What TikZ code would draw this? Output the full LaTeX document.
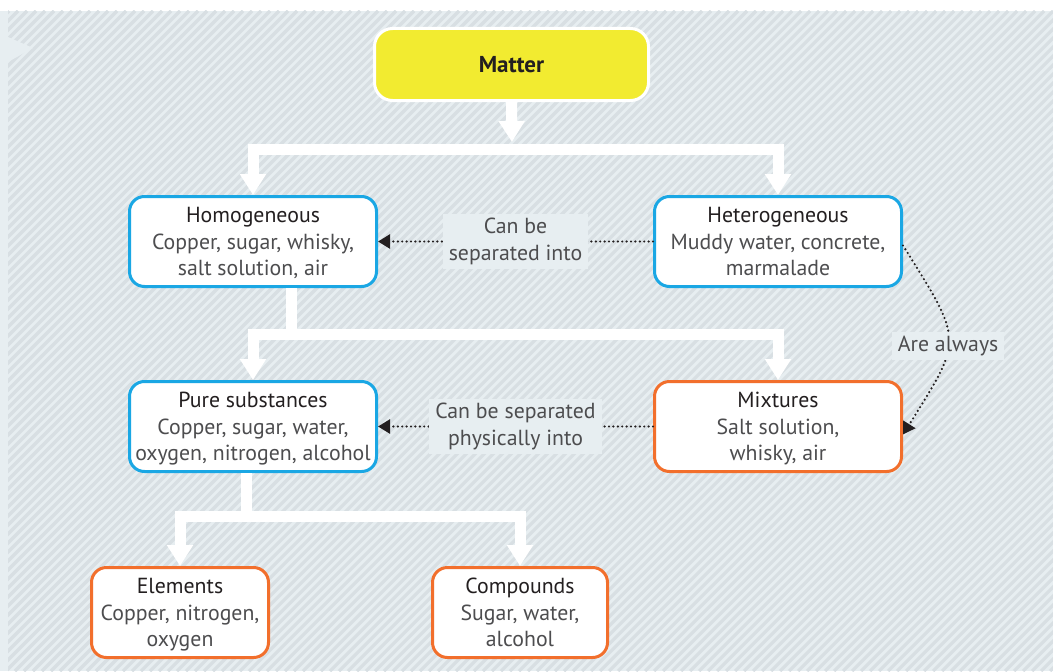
\documentclass[tikz,border=0pt]{standalone}
\usepackage{fontspec}
\setmainfont{PT Sans}
\usetikzlibrary{arrows.meta,calc,positioning}
\definecolor{Stripe}{HTML}{D8DFE3}
\definecolor{Paper}{HTML}{E7EEF1}
\definecolor{Lemon}{HTML}{F2EB30}
\definecolor{Sky}{HTML}{1AA7E4}
\definecolor{Tangerine}{HTML}{F26F2C}
\definecolor{Ink}{HTML}{231F20}
\definecolor{Slate}{HTML}{4D4D4F}

\tikzset{
  catbox/.style={draw=#1,line width=1.5pt,fill=white,rounded corners=7.5pt,
    minimum width=123.5pt,minimum height=45pt,inner sep=0pt,align=center,
    text=Slate,font=\fontsize{10.9}{13.25}\selectfont},
  seplabel/.style={fill=Paper,inner xsep=3pt,inner ysep=2pt,align=center,
    text=Slate,font=\fontsize{10.9}{13.25}\selectfont},
  treelink/.style={white,line width=5.5pt,line join=miter,
    >={Triangle[width=12.5pt,length=10.5pt]}},
  dotlink/.style={Ink,line width=1.2pt,line cap=round,dash pattern=on 0pt off 2.2pt,
    >={Triangle[width=7pt,length=6pt]},->},
}
% first and last line of a box, with struts so all boxes sit alike
\newcommand{\boxhead}[1]{\rule{0pt}{12.5pt}\textcolor{Ink}{#1}}
\newcommand{\boxtail}[1]{#1\rule[-5pt]{0pt}{5pt}}

\begin{document}
\begin{tikzpicture}[x=0.5pt,y=0.5pt]
  % background
  \fill[white] (0,0) rectangle (1053,671);
  \fill[Paper] (0,0) rectangle (1053,660);
  \begin{scope}
    \clip (8,0) rectangle (1053,660);
    \foreach \s in {-660,-651,...,1053}
      \draw[Stripe,line width=1.6pt] (\s,0) -- ++(660,660);
  \end{scope}
  \fill[Paper] (8,634) -- (33,623) -- (8,609) -- cycle;

  % boxes
  \node[fill=Lemon,draw=white,line width=1.5pt,rounded corners=9pt,
    minimum width=137pt,minimum height=36pt,text=Ink,
    font=\fontsize{11.5}{13}\selectfont\bfseries] (matter) at (511.5,606.5) {Matter};
  \node[catbox=Sky] (homo) at (253,429.5)
    {\boxhead{Homogeneous}\\Copper, sugar, whisky,\\\boxtail{salt solution, air}};
  \node[catbox=Sky] (hetero) at (778,429.5)
    {\boxhead{Heterogeneous}\\Muddy water, concrete,\\\boxtail{marmalade}};
  \node[catbox=Sky] (pure) at (253,244.5)
    {\boxhead{Pure substances}\\Copper, sugar, water,\\\boxtail{oxygen, nitrogen, alcohol}};
  \node[catbox=Tangerine] (mix) at (778,244.5)
    {\boxhead{Mixtures}\\Salt solution,\\\boxtail{whisky, air}};
  \node[catbox=Tangerine,minimum width=88.5pt] (elem) at (180,58.5)
    {\boxhead{Elements}\\Copper, nitrogen,\\\boxtail{oxygen}};
  \node[catbox=Tangerine,minimum width=87.5pt] (comp) at (520,58.5)
    {\boxhead{Compounds}\\Sugar, water,\\\boxtail{alcohol}};

  % white tree links
  \coordinate (split1) at (512,522);
  \coordinate (split2) at (291,336.5);
  \coordinate (split3) at (246,154.5);
  \draw[treelink,->,shorten >=3.5pt] (matter.south) -- (split1);
  \draw[treelink,<->] (homo.north) -- (homo.north |- split1)
    -- (hetero.north |- split1) -- (hetero.north);
  \draw[treelink] (homo.south -| split2) -- (split2);
  \draw[treelink,<->] (pure.north) -- (pure.north |- split2)
    -- (mix.north |- split2) -- (mix.north);
  \draw[treelink] (pure.south -| split3) -- (split3);
  \draw[treelink,<->] (elem.north) -- (elem.north |- split3)
    -- (comp.north |- split3) -- (comp.north);

  % dotted links
  \draw[dotlink] (hetero.west) -- node[seplabel] (lab1)
    {Can be\\separated into} (homo.east);
  \draw[dotlink] (mix.west) -- node[seplabel] (lab2)
    {Can be separated\\physically into} (pure.east);
  \draw[dotlink] ([yshift=-2pt]hetero.east) to[out=-58,in=58,looseness=1.55]
    node[seplabel,pos=0.54] (lab3) {Are always} ([yshift=-4pt]mix.east);
\end{tikzpicture}
\end{document}
